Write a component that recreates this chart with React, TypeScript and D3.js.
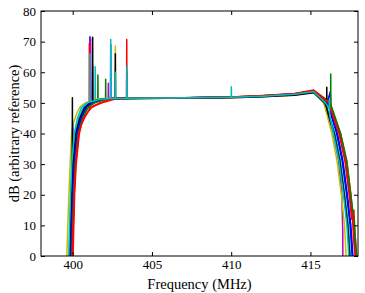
import React, { useRef, useEffect } from "react";
import * as d3 from "d3";

type Pt = [number, number];

const freqTicks = [400, 405, 410, 415];
const dbTicks = [0, 10, 20, 30, 40, 50, 60, 70, 80];
const freqDomain: [number, number] = [398, 418];
const dbDomain: [number, number] = [0, 80];

// matplotlib classic cycle b g r c m y k
const seriesColors = [
  "#0000ff", "#008000", "#ff0000", "#00bfbf", "#bf00bf", "#bfbf00",
  "#000000", "#0000ff", "#008000", "#ff0000", "#00bfbf",
];

// [MHz, dB], one list per spectrum
const spec0: Pt[] = [[399.6,-30],[399.83,0],[399.88,10],[399.94,20],[399.99,28],[400.0,44],[400.01,31],[400.2,40],[400.45,45],[400.75,48.5],[401.08,50],[401.09,71.6],[401.1,50.1],[401.8,51.3],[402.39,51.4],[402.4,69],[402.41,51.4],[403.4,51.5],[403.41,60],[403.42,51.5],[406,51.6],[410,51.8],[412,52.2],[414,52.8],[415.2,53.7],[416.05,50],[416.25,53.6],[416.3,46],[416.65,40],[417.0,31],[417.28,20],[417.5,10],[417.63,0],[417.85,-30]];
const spec1: Pt[] = [[399.7,-30],[399.91,0],[399.96,10],[400.02,20],[400.11,30],[400.3,40],[400.57,45],[400.9,48.5],[401.3,50],[401.58,50.6],[401.59,59.1],[401.6,50.6],[402.07,51.0],[402.08,57.7],[402.09,51.0],[403,51.3],[406,51.5],[410,51.8],[412,52.3],[414,52.9],[415.2,53.8],[416.2,50],[416.27,48],[416.28,59.4],[416.29,47.5],[416.52,45],[416.85,40],[417.2,31],[417.47,20],[417.7,10],[417.84,0],[418.1,-30]];
const spec2: Pt[] = [[399.8,-30],[400.02,0],[400.07,10],[400.12,20],[400.22,30],[400.42,40],[400.55,43],[400.78,45.4],[400.97,47.1],[401.04,47.6],[401.05,69.4],[401.06,47.7],[401.2,48.5],[401.5,49.3],[401.85,50],[402.6,51.2],[403.4,51.5],[403.41,70.7],[403.42,51.5],[406,51.6],[410,51.9],[412,52.4],[414,53.1],[415.2,54.2],[416.2,50.3],[416.55,45],[416.9,40],[417.3,31],[417.55,20],[417.7,12],[417.74,15],[417.8,8],[417.92,0],[418.15,-30]];
const spec3: Pt[] = [[399.55,-30],[399.78,0],[399.83,10],[399.89,20],[399.97,30],[400.13,40],[400.38,45],[400.66,48.5],[401.0,50],[401.41,50.8],[401.42,61.8],[401.43,50.8],[401.8,51.2],[402.5,51.4],[406,51.6],[410,51.8],[412,52.1],[414,52.7],[415.2,53.5],[415.95,50],[416.25,45],[416.55,40],[416.9,31],[417.17,20],[417.4,10],[417.52,0],[417.75,-30]];
const spec4: Pt[] = [[399.65,-30],[399.85,0],[399.9,10],[399.96,20],[400.05,30],[400.22,40],[400.48,45],[400.78,48.5],[401.12,50],[401.13,71],[401.14,50.1],[401.25,50.4],[401.26,62],[401.27,50.5],[401.8,51.2],[402.24,51.3],[402.25,56.4],[402.26,51.3],[403,51.5],[406,51.6],[410,51.8],[412,52.2],[414,52.8],[415.2,53.7],[415.85,50],[416.15,45],[416.45,40],[416.78,31],[416.98,20],[417.04,8],[417.05,-30]];
const spec5: Pt[] = [[399.4,-30],[399.63,0],[399.69,10],[399.76,20],[399.84,30],[399.93,40],[400.0,42.8],[400.15,45],[400.3,47.1],[400.45,48.5],[400.6,49.3],[400.8,50],[401.4,51.2],[402.0,51.4],[402.68,51.5],[402.69,68.6],[402.7,51.5],[406,51.6],[410,51.7],[412,52.0],[414,52.6],[415.2,53.4],[415.85,50],[416.1,45],[416.35,40],[416.68,31],[416.95,20],[417.15,10],[417.25,0],[417.45,-30]];
const spec6: Pt[] = [[399.6,-30],[399.83,0],[399.88,10],[399.94,20],[399.97,23],[399.98,51.7],[399.99,25],[400.03,30],[400.2,40],[400.45,45],[400.75,48.5],[401.1,50],[401.25,50.6],[401.26,71.4],[401.27,50.6],[401.8,51.2],[402.5,51.4],[402.68,51.4],[402.69,66],[402.7,51.4],[406,51.5],[410,51.7],[412,52.0],[414,52.5],[415.2,53.3],[415.9,50],[416.02,48.5],[416.03,55.1],[416.04,48],[416.2,45],[416.5,40],[416.85,31],[417.13,20],[417.35,10],[417.48,0],[417.7,-30]];
const spec7: Pt[] = [[399.65,-30],[399.88,0],[399.93,10],[399.99,20],[400.08,30],[400.26,40],[400.52,45],[400.84,48.5],[401.2,50],[401.88,51.2],[402.4,51.4],[403,51.5],[406,51.6],[410,51.8],[412,52.2],[414,52.8],[415.2,53.7],[416.1,50],[416.4,45],[416.7,40],[417.05,31],[417.33,20],[417.55,10],[417.68,0],[417.9,-30]];
const spec8: Pt[] = [[399.72,-30],[399.95,0],[400.0,10],[400.06,20],[400.16,30],[400.35,40],[400.63,45],[400.98,48.5],[401.4,50],[402.1,51.2],[402.6,51.4],[406,51.6],[410,51.9],[412,52.3],[414,53.0],[415.2,53.9],[416.25,50],[416.58,45],[416.9,40],[417.28,31],[417.55,20],[417.78,10],[417.9,0],[418.2,-30]];
const spec9: Pt[] = [[399.75,-30],[399.98,0],[400.03,10],[400.09,20],[400.19,30],[400.38,40],[400.68,45],[401.15,48.5],[401.7,50],[402.4,51.2],[402.9,51.4],[406,51.6],[410,51.9],[412,52.3],[414,53.0],[415.2,54.0],[416.15,50],[416.47,45],[416.8,40],[417.18,31],[417.45,20],[417.6,12],[417.65,14],[417.72,6],[417.82,0],[418.05,-30]];
const spec10: Pt[] = [[399.52,-30],[399.75,0],[399.8,10],[399.86,20],[399.94,30],[400.1,40],[400.3,45],[400.55,48.5],[400.9,50],[401.08,50.3],[401.09,66],[401.1,50.3],[401.7,51.2],[402.39,51.4],[402.4,70.7],[402.41,51.4],[402.69,51.4],[402.7,60],[402.71,51.4],[403.41,51.5],[403.42,62],[403.43,51.5],[406,51.6],[410,51.8],[410.01,55.3],[410.02,51.8],[412,52.2],[414,52.8],[415.2,53.6],[415.95,50],[416.19,48],[416.2,51],[416.21,46.5],[416.25,45],[416.45,40],[416.8,31],[417.08,20],[417.3,10],[417.42,0],[417.65,-30]];

const spectra = [spec0, spec1, spec2, spec3, spec4, spec5, spec6, spec7, spec8, spec9, spec10];

const W = 365;
const H = 293;
const margin = { top: 11, right: 7, bottom: 37, left: 41 };
const FONT = "'Liberation Serif', 'Times New Roman', serif";

const App: React.FC = () => {
  const svgRef = useRef<SVGSVGElement | null>(null);

  useEffect(() => {
    if (!svgRef.current) return;
    const svg = d3.select(svgRef.current);
    svg.selectAll("*").remove();

    const innerW = W - margin.left - margin.right;
    const innerH = H - margin.top - margin.bottom;

    const x = d3.scaleLinear().domain(freqDomain).range([0, innerW]);
    const y = d3.scaleLinear().domain(dbDomain).range([innerH, 0]);

    svg
      .append("defs")
      .append("clipPath")
      .attr("id", "plotClip")
      .append("rect")
      .attr("width", innerW)
      .attr("height", innerH);

    const g = svg
      .append("g")
      .attr("transform", `translate(${margin.left},${margin.top})`);

    const line = d3
      .line<Pt>()
      .x((d) => x(d[0]))
      .y((d) => y(d[1]));

    g.append("g")
      .attr("clip-path", "url(#plotClip)")
      .selectAll("path")
      .data(spectra)
      .join("path")
      .attr("d", (d) => line(d))
      .attr("fill", "none")
      .attr("stroke", (_, i) => seriesColors[i % seriesColors.length])
      .attr("stroke-width", 1.5)
      .attr("stroke-linejoin", "round");

    const styleAxis = (sel: d3.Selection<SVGGElement, unknown, null, undefined>) => {
      sel.select(".domain").remove();
      sel.selectAll(".tick line").attr("stroke", "#000").attr("stroke-width", 1);
      sel
        .selectAll("text")
        .attr("fill", "#000")
        .attr("font-family", FONT)
        .attr("font-size", 13);
    };

    g.append("g")
      .attr("transform", `translate(0,${innerH})`)
      .call(d3.axisBottom(x).tickValues(freqTicks).tickSizeInner(-4).tickSizeOuter(0).tickPadding(4).tickFormat(d3.format("d")))
      .call(styleAxis);
    g.append("g")
      .call(d3.axisTop(x).tickValues(freqTicks).tickSizeInner(-4).tickSizeOuter(0).tickFormat(() => ""))
      .call(styleAxis);
    g.append("g")
      .call(d3.axisLeft(y).tickValues(dbTicks).tickSizeInner(-4).tickSizeOuter(0).tickPadding(5).tickFormat(d3.format("d")))
      .call(styleAxis);
    g.append("g")
      .attr("transform", `translate(${innerW},0)`)
      .call(d3.axisRight(y).tickValues(dbTicks).tickSizeInner(-4).tickSizeOuter(0).tickFormat(() => ""))
      .call(styleAxis);

    g.append("rect")
      .attr("width", innerW)
      .attr("height", innerH)
      .attr("fill", "none")
      .attr("stroke", "#000")
      .attr("stroke-width", 1);

    g.append("text")
      .attr("x", innerW / 2)
      .attr("y", innerH + 33)
      .attr("text-anchor", "middle")
      .attr("font-family", FONT)
      .attr("font-size", 14.5)
      .attr("fill", "#000")
      .text("Frequency (MHz)");

    g.append("text")
      .attr("transform", `translate(${19 - margin.left},${innerH / 2}) rotate(-90)`)
      .attr("text-anchor", "middle")
      .attr("font-family", FONT)
      .attr("font-size", 14.5)
      .attr("fill", "#000")
      .text("dB (arbitrary reference)");
  }, []);

  return (
    <div style={{ position: "fixed", left: 0, top: 0, width: W, height: H, background: "#fff" }}>
      <svg ref={svgRef} width={W} height={H} />
    </div>
  );
};

export default App;
